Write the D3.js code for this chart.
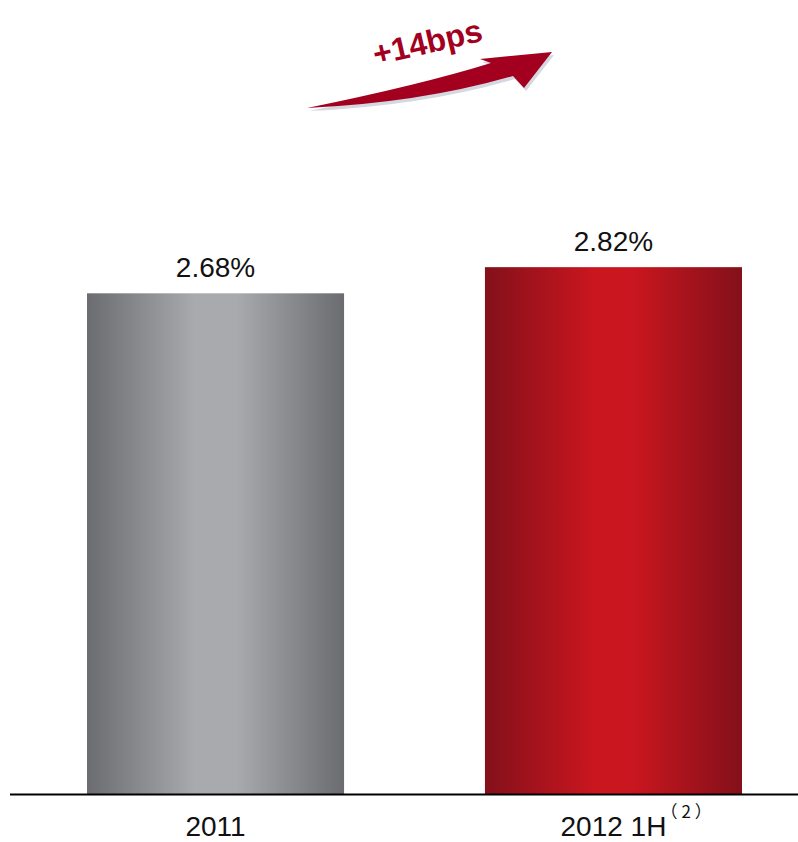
<!DOCTYPE html>
<html>
<head>
<meta charset="utf-8">
<script src="https://cdn.jsdelivr.net/npm/d3@7"></script>
<style>
  html, body { margin: 0; padding: 0; background: #ffffff; }
  svg { display: block; }
</style>
</head>
<body>
<svg id="chart" width="798" height="842"></svg>
<script>
// Net interest margin by period
const categories = ["2011", "2012 1H"];
const footnotes = ["", "（2）"];
const values = [2.68, 2.82];
const valueLabels = ["2.68%", "2.82%"];
const changeLabel = "+14bps";

const width = 798, height = 842;
const baseY = 794;
const font = "'Liberation Sans', Arial, sans-serif";

const svg = d3.select("#chart");
const defs = svg.append("defs");

// Horizontal cylinder-style shading for each bar
const shades = [
  { id: "gGray", edge: "#6b6c6f", mid: "#a9aaad" },
  { id: "gRed", edge: "#83101a", mid: "#c9161f" }
];
shades.forEach(s => {
  const g = defs.append("linearGradient").attr("id", s.id)
    .attr("x1", "0%").attr("x2", "100%").attr("y1", "0%").attr("y2", "0%");
  g.append("stop").attr("offset", "0%").attr("stop-color", s.edge);
  g.append("stop").attr("offset", "42%").attr("stop-color", s.mid);
  g.append("stop").attr("offset", "58%").attr("stop-color", s.mid);
  g.append("stop").attr("offset", "100%").attr("stop-color", s.edge);
});

const x = d3.scaleBand().domain(categories).range([87, 742]).paddingInner(0.354).paddingOuter(0);
const y = d3.scaleLinear().domain([0, 4.25]).range([baseY, 0]);

// Bars
svg.selectAll("rect.bar").data(categories).join("rect")
  .attr("class", "bar")
  .attr("x", d => x(d))
  .attr("width", x.bandwidth())
  .attr("y", (d, i) => y(values[i]))
  .attr("height", (d, i) => baseY - y(values[i]))
  .attr("fill", (d, i) => `url(#${shades[i].id})`);

// Value labels
svg.selectAll("text.val").data(categories).join("text")
  .attr("class", "val")
  .attr("x", d => x(d) + x.bandwidth() / 2)
  .attr("y", (d, i) => y(values[i]) - 16)
  .attr("text-anchor", "middle")
  .attr("font-family", font)
  .attr("font-size", 28)
  .attr("fill", "#111")
  .text((d, i) => valueLabels[i]);

// Baseline
svg.append("line")
  .attr("x1", 10).attr("x2", 798)
  .attr("y1", baseY + 0.5).attr("y2", baseY + 0.5)
  .attr("stroke", "#000").attr("stroke-width", 2);

// Category labels, centred under each bar
const cat = svg.selectAll("text.cat").data(categories).join("text")
  .attr("class", "cat")
  .attr("x", d => x(d) + x.bandwidth() / 2)
  .attr("y", 836)
  .attr("text-anchor", "middle")
  .attr("font-family", font)
  .attr("font-size", 28)
  .attr("fill", "#111")
  .text(d => d);

// Footnote markers hanging after the category text
cat.each(function(d, i) {
  if (!footnotes[i]) return;
  const bb = this.getBBox();
  svg.append("text")
    .attr("x", bb.x + bb.width - 6)
    .attr("y", 818)
    .attr("font-family", "'Noto Sans CJK SC', 'Noto Sans CJK JP', sans-serif")
    .attr("font-size", 17)
    .attr("letter-spacing", 4)
    .attr("fill", "#111")
    .text(footnotes[i]);
});

// Upward trend arrow with change annotation
const arrowPath = d3.path();
arrowPath.moveTo(307, 108);
arrowPath.quadraticCurveTo(420, 85, 491, 63);
arrowPath.lineTo(480, 59);
arrowPath.lineTo(552, 52);
arrowPath.lineTo(524, 88);
arrowPath.lineTo(513, 76);
arrowPath.quadraticCurveTo(420, 103, 307, 108);
arrowPath.closePath();

svg.append("path")
  .attr("d", arrowPath.toString())
  .attr("transform", "translate(2,3)")
  .attr("fill", "#d4d8e0");
svg.append("path")
  .attr("d", arrowPath.toString())
  .attr("fill", "#a3001f");

svg.append("text")
  .attr("transform", "translate(430,53) rotate(-13)")
  .attr("text-anchor", "middle")
  .attr("font-family", font)
  .attr("font-weight", "bold")
  .attr("font-size", 32)
  .attr("fill", "#a3001f")
  .text(changeLabel);
</script>
</body>
</html>
